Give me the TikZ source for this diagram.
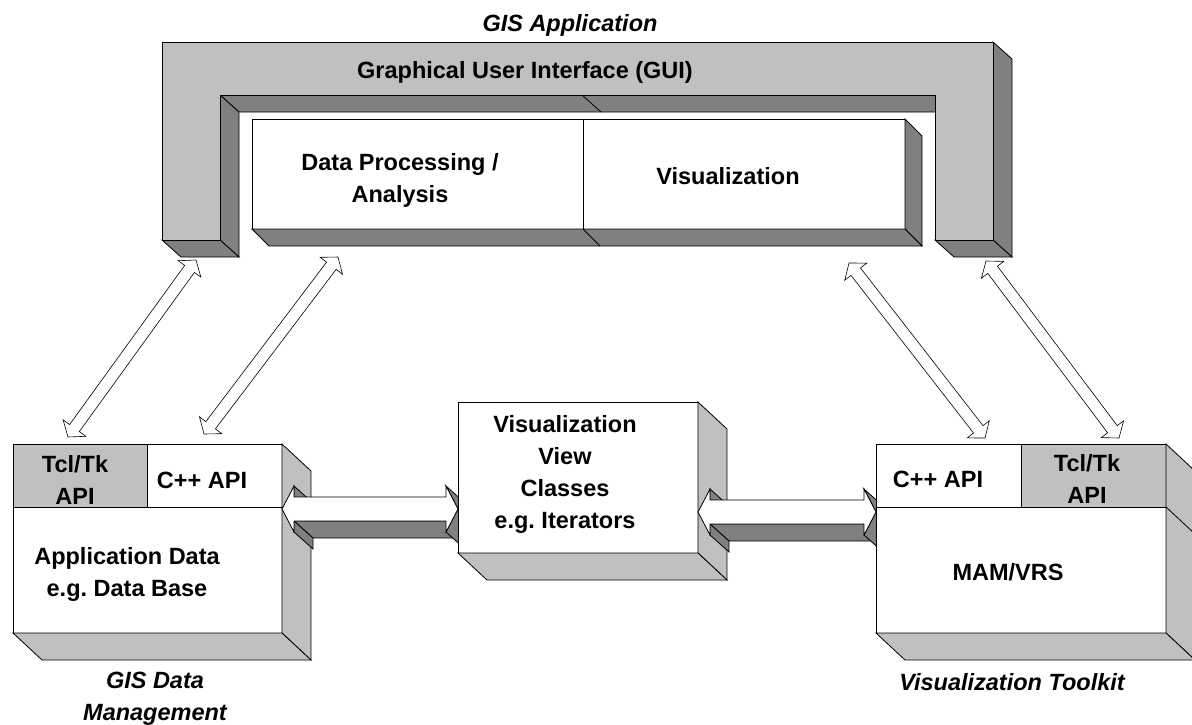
\documentclass[tikz,border=0pt]{standalone}
\usepackage{fontspec}
\setmainfont{Liberation Sans}
\usetikzlibrary{calc, positioning}
\frenchspacing

\definecolor{lightshade}{HTML}{C0C0C0}
\definecolor{darkshade}{HTML}{808080}

% outlined double arrow between two named points
\newcommand{\hollowlink}[2]{%
  \draw[link] (#1)
    -- ($(#1)!11pt!(#2)!14pt!90:(#2)$)
    -- ($(#1)!11pt!(#2)!6pt!90:(#2)$)
    -- ($(#2)!11pt!(#1)!6pt!-90:(#1)$)
    -- ($(#2)!11pt!(#1)!14pt!-90:(#1)$)
    -- (#2)
    -- ($(#2)!11pt!(#1)!14pt!90:(#1)$)
    -- ($(#2)!11pt!(#1)!6pt!90:(#1)$)
    -- ($(#1)!11pt!(#2)!6pt!-90:(#2)$)
    -- ($(#1)!11pt!(#2)!14pt!-90:(#2)$)
    -- cycle;}

% solid horizontal double arrow with depth, left tip #1, right tip #2
\newcommand{\blockarrow}[2]{%
  \draw[darkside] ($(#1)+(12,-23)$) -- ($(#1)+(12,-12)$) -- ($(#1)+(31,5)$) -- ($(#1)+(31,-6)$) -- cycle;
  \draw[darkside] ($(#2)+(-12,12)$) -- ($(#1)+(12,12)$) -- ($(#1)+(31,29)$) -- ($(#2)+(7,29)$) -- cycle;
  \draw[darkside] ($(#1)+(12,12)$) -- ($(#1)+(12,23)$) -- ($(#1)+(31,40)$) -- ($(#1)+(31,29)$) -- cycle;
  \draw[darkside] ($(#2)+(-12,-23)$) -- (#2) -- ($(#2)+(19,17)$) -- ($(#2)+(7,-6)$) -- cycle;
  \draw[darkside] (#2) -- ($(#2)+(-12,23)$) -- ($(#2)+(7,40)$) -- ($(#2)+(19,17)$) -- cycle;
  \draw[front] (#1) -- ($(#1)+(12,-23)$) -- ($(#1)+(12,-12)$) -- ($(#2)+(-12,-12)$)
    -- ($(#2)+(-12,-23)$) -- (#2) -- ($(#2)+(-12,23)$) -- ($(#2)+(-12,12)$)
    -- ($(#1)+(12,12)$) -- ($(#1)+(12,23)$) -- cycle;}

\begin{document}
\begin{tikzpicture}[
	x=1pt, y=-1pt,
	every node/.style={font=\fontsize{23.5}{32}\selectfont\bfseries},
	face/.style={draw, line width=0.8pt},
	front/.style={face, fill=white, inner sep=0pt, outer sep=0pt},
	tclbox/.style={front, fill=lightshade},
	litside/.style={face, fill=lightshade},
	darkside/.style={face, fill=darkshade},
	label/.style={align=center, inner sep=0pt},
	caption/.style={label, font=\fontsize{23.5}{32}\selectfont\bfseries\itshape},
	link/.style={draw, fill=white, line width=0.6pt}
	]
	\useasboundingbox (0,0) rectangle (1192,724);
	\clip (0,0) rectangle (1192,724);
	
	% GUI frame
	\draw[darkside] (993,42) -- ++(19,17) -- ++(0,198) -- ++(-19,-17) -- cycle;
	\draw[darkside] (935,240) -- (993,240) -- ++(19,17) -- ++(-58,0) -- cycle;
	\draw[darkside] (220,95) -- (935,95) -- ++(19,17) -- (239,112) -- cycle;
	\draw[darkside] (220,95) -- ++(19,17) -- ++(0,145) -- (220,240) -- cycle;
	\draw[darkside] (162,240) -- (220,240) -- ++(19,17) -- ++(-58,0) -- cycle;
	\draw[face] (582,95) -- ++(19,17);
	\draw[face, fill=lightshade] (162,42) -- (993,42) -- (993,240) -- (935,240)
		-- (935,95) -- (220,95) -- (220,240) -- (162,240) -- cycle;
	\node[caption] (app) at (570,25) {GIS Application};
	\node[label] (gui) at (525,72) {Graphical User Interface (GUI)};
	
	% Processing and visualization modules
	\node[front, minimum width=331pt, minimum height=110pt, anchor=north west] (dproc) at (252,119) {};
	\node[front, minimum width=322pt, minimum height=110pt, anchor=north west] (vis) at (dproc.north east) {};
	\draw[darkside] (vis.north east) -- ++(17,17) -- ++(0,110) -- (vis.south east) -- cycle;
	\draw[darkside] (dproc.south west) -- (vis.south east) -- ++(17,17) -- ++(-653,0) -- cycle;
	\draw[face] (dproc.south east) -- ++(17,17);
	\node[label] (dproc-txt) at (400,180) {Data Processing /\\Analysis};
	\node[label] (vis-txt) at (728,176) {Visualization};
	
	% GIS data management
	\node[front, minimum width=269pt, minimum height=189pt, anchor=north west] (datamgmt) at (13,444) {};
	\node[tclbox, minimum width=134pt, minimum height=63pt, anchor=north west] (dm-tcl) at (datamgmt.north west) {};
	\node[front, minimum width=135pt, minimum height=63pt, anchor=north east] (dm-cpp) at (datamgmt.north east) {};
	\draw[litside] (datamgmt.north east) -- ++(29,27) -- ++(0,189) -- (datamgmt.south east) -- cycle;
	\draw[litside] (datamgmt.south west) -- (datamgmt.south east) -- ++(29,27) -- ++(-269,0) -- cycle;
	\draw[face] (dm-cpp.south east) -- ++(29,27);
	\node[label] (dm-tcl-txt) at (75,480) {Tcl/Tk\\API};
	\node[label] (dm-cpp-txt) at (202,480) {C++ API};
	\node[label] (dm-txt) at (127,574) {Application Data\\e.g. Data Base};
	\node[caption] (dm-cap) at (155,699) {GIS Data\\Management};
	
	\coordinate (dm-port) at (282,509);
	\coordinate (vc-in) at (458,509);
	\blockarrow{dm-port}{vc-in}
	
	% Visualization view classes
	\node[front, minimum width=240pt, minimum height=151pt, anchor=north west] (viewcls) at (458,402) {};
	\draw[litside] (viewcls.north east) -- ++(29,27) -- ++(0,151) -- (viewcls.south east) -- cycle;
	\draw[litside] (viewcls.south west) -- (viewcls.south east) -- ++(29,27) -- ++(-240,0) -- cycle;
	\node[label] (viewcls-txt) at (565,474) {Visualization\\View\\Classes\\e.g. Iterators};
	
	\coordinate (vc-out) at (698,512);
	\coordinate (mv-port) at (876,512);
	\blockarrow{vc-out}{mv-port}
	
	% Visualization toolkit
	\node[front, minimum width=290pt, minimum height=189pt, anchor=north west] (mamvrs) at (876,444) {};
	\node[front, minimum width=145pt, minimum height=63pt, anchor=north west] (mv-cpp) at (mamvrs.north west) {};
	\node[tclbox, minimum width=145pt, minimum height=63pt, anchor=north east] (mv-tcl) at (mamvrs.north east) {};
	\draw[litside] (mamvrs.north east) -- ++(29,27) -- ++(0,189) -- (mamvrs.south east) -- cycle;
	\draw[litside] (mamvrs.south west) -- (mamvrs.south east) -- ++(29,27) -- ++(-290,0) -- cycle;
	\draw[face] (mv-tcl.south east) -- ++(29,27);
	\node[label] (mv-cpp-txt) at (938,479) {C++ API};
	\node[label] (mv-tcl-txt) at (1087,479) {Tcl/Tk\\API};
	\node[label] (mv-txt) at (1008,572) {MAM/VRS};
	\node[caption] (mv-cap) at (1012,682) {Visualization Toolkit};
	
	% Links to the application
	\coordinate (gui-l) at (196,260);
	\coordinate (dproc-p) at (338,257);
	\coordinate (vis-p) at (849,263);
	\coordinate (gui-r) at (986,261);
	\coordinate (dm-tcl-p) at (68,437);
	\coordinate (dm-cpp-p) at (204,434);
	\coordinate (mv-cpp-p) at (985,438);
	\coordinate (mv-tcl-p) at (1119,438);
	\hollowlink{dm-tcl-p}{gui-l}
	\hollowlink{dm-cpp-p}{dproc-p}
	\hollowlink{vis-p}{mv-cpp-p}
	\hollowlink{gui-r}{mv-tcl-p}
\end{tikzpicture}
\end{document}
